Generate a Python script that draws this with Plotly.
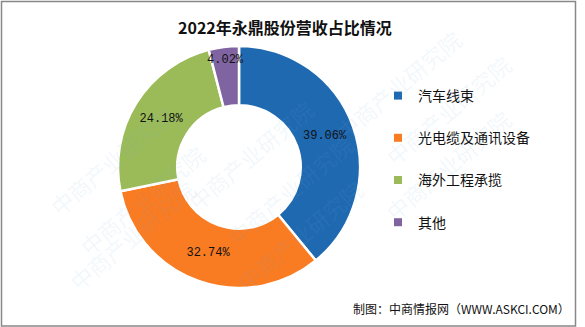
import plotly.graph_objects as go

categories = ["汽车线束", "光电缆及通讯设备", "海外工程承揽", "其他"]
values = [39.06, 32.74, 24.18, 4.02]
colors = ["#1F69B1", "#F97B22", "#9BBB59", "#8064A2"]

W, H = 585, 327

def px(x):
    return x / W

def py(y):
    return 1 - y / H

fig = go.Figure()
fig.add_trace(go.Pie(
    labels=categories,
    values=values,
    sort=False,
    direction="clockwise",
    rotation=0,
    hole=0.51,
    marker=dict(colors=colors, line=dict(color="white", width=2.5)),
    texttemplate="%{value:.2f}%",
    textposition="inside",
    insidetextorientation="horizontal",
    textfont=dict(family="Liberation Mono", size=12, color="#111111"),
    domain=dict(x=[px(118), px(360)], y=[py(288), py(46)]),
    showlegend=False,
    hoverinfo="label+value",
))

# legend entries
for i, (c, col) in enumerate(zip(categories, colors)):
    fig.add_trace(go.Scatter(
        x=[None], y=[None], mode="markers", name=c,
        marker=dict(symbol="square", size=8, color=col),
        legendgroup=f"g{i}", showlegend=True,
    ))

annotations = [
    dict(text="<b>2022年永鼎股份营收占比情况</b>", x=px(285), y=py(27),
         xref="paper", yref="paper", showarrow=False,
         font=dict(family="Noto Sans CJK SC", size=16, color="#111111"),
         xanchor="center", yanchor="middle"),
    dict(text="制图：中商情报网（WWW.ASKCI.COM）", x=px(572), y=py(308),
         xref="paper", yref="paper", showarrow=False,
         font=dict(family="Noto Sans CJK SC", size=12, color="#111111"),
         xanchor="right", yanchor="middle"),
]

# faint watermarks
wm = [(40, 95), (70, 200), (60, 300), (250, 90), (290, 190), (300, 300), (520, 110), (520, 230), (470, 20)]
for (wx, wy) in wm:
    annotations.append(dict(text="中商产业研究院", x=px(wx), y=py(wy), xref="paper", yref="paper",
                            showarrow=False, textangle=-40,
                            font=dict(family="Noto Sans CJK SC", size=22, color="rgba(120,170,220,0.10)")))

fig.update_layout(
    width=W, height=H,
    margin=dict(l=0, r=0, t=0, b=0),
    paper_bgcolor="white", plot_bgcolor="white",
    xaxis=dict(visible=False), yaxis=dict(visible=False),
    uniformtext=dict(minsize=12, mode="show"),
    legend=dict(x=px(378), y=py(80), xanchor="left", yanchor="top",
                tracegroupgap=21, font=dict(family="Noto Sans CJK SC", size=14, color="#111111"),
                bgcolor="rgba(0,0,0,0)", itemclick=False, itemdoubleclick=False),
    annotations=annotations,
    shapes=[dict(type="rect", xref="paper", yref="paper", x0=px(1.5), x1=px(575.5), y0=py(326), y1=py(1.5),
                 line=dict(color="#888888", width=1.5), layer="above")],
)

fig.write_html("out.html")
